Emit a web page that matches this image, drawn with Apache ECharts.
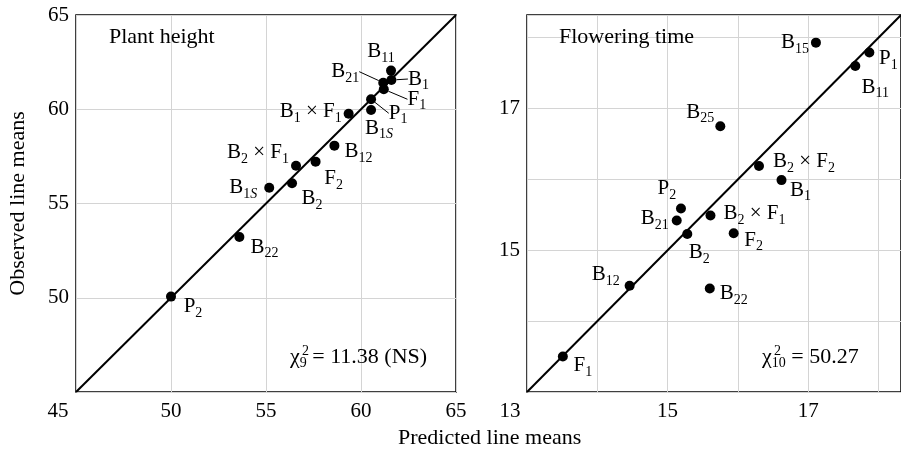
<!DOCTYPE html>
<html>
<head>
<meta charset="utf-8">
<script src="https://cdn.jsdelivr.net/npm/echarts@6/dist/echarts.min.js"></script>
<style>
  html, body { margin: 0; padding: 0; background: #fff; }
  #main { width: 901px; height: 450px; }
</style>
</head>
<body>
<div id="main"></div>
<script>
// plant height panel
var heightNames = ['B11', 'B1', 'B21', 'F1', 'P1', 'B1S', 'B1×F1', 'B12', 'F2', 'B2×F1', 'B2', 'B1S', 'B22', 'P2'];
var heightPredicted = [61.58, 61.6, 61.17, 61.2, 60.53, 60.53, 59.35, 58.6, 57.61, 56.58, 56.37, 55.17, 53.6, 50.0];
var heightObserved = [62.05, 61.55, 61.41, 61.06, 60.53, 59.96, 59.76, 58.07, 57.22, 57.0, 56.07, 55.84, 53.22, 50.06];
var heightRange = [45, 65];
var heightXTicks = [45, 50, 55, 60, 65];
var heightYTicks = [50, 55, 60, 65];

// flowering time panel
var flowerNames = ['B15', 'P1', 'B11', 'B25', 'B2×F2', 'B1', 'P2', 'B21', 'B2×F1', 'B2', 'F2', 'B12', 'B22', 'F1'];
var flowerPredicted = [17.11, 17.87, 17.67, 15.75, 16.3, 16.62, 15.19, 15.13, 15.61, 15.28, 15.94, 14.46, 15.6, 13.51];
var flowerObserved = [17.93, 17.79, 17.6, 16.75, 16.19, 15.99, 15.59, 15.42, 15.49, 15.23, 15.24, 14.5, 14.46, 13.5];
var flowerRange = [13, 18.32];
var flowerXTicks = [13, 15, 17];
var flowerYTicks = [15, 17];

// label placement (label centre minus point centre, px)
var heightLabelShift = [[-10, -19], [27, -1], [-38, -11], [33, 10], [27, 14], [8, 18], [-38, -2],
  [24, 6], [18, 17], [-38, -13], [20, 15], [-26, 0], [25, 10], [22, 10]];
var heightLeader = [false, true, true, true, true, false, false, false, false, false, false, false, false, false];
var flowerLabelShift = [[-21, 0], [19, 6], [20, 21], [-20, -14], [45, -4], [19, 10], [-14, -20],
  [-22, -2], [44, -2], [12, 19], [20, 7], [-24, -11], [24, 5], [20, 9]];

var FONT = 'Liberation Serif';
var rich = {
  n: { fontFamily: FONT, fontSize: 21, fontWeight: 'normal', color: '#000', lineHeight: 24 },
  c: { fontFamily: FONT, fontSize: 22, fontWeight: 'normal', color: '#000', lineHeight: 24 },
  s: { fontFamily: FONT, fontSize: 14, fontWeight: 'normal', color: '#000', lineHeight: 14, padding: [13, 0, 0, 0] },
  si: { fontFamily: FONT, fontSize: 14, fontWeight: 'normal', fontStyle: 'italic', color: '#000', lineHeight: 14, padding: [13, 0, 0, 0] },
  p: { fontFamily: FONT, fontSize: 14, fontWeight: 'normal', color: '#000' }
};

function richName(name) {
  var out = '';
  name.split('×').forEach(function (part, i) {
    if (i > 0) out += '{n| × }';
    var m = part.match(/^([A-Z])(\d+)(S?)$/);
    out += '{n|' + m[1] + '}{s|' + m[2] + '}' + (m[3] ? '{si|S}' : '');
  });
  return out;
}

function buildPoints(names, xs, ys, leader) {
  return names.map(function (nm, i) {
    var item = { name: nm, value: [xs[i], ys[i]] };
    if (leader && leader[i]) {
      item.labelLine = { show: true, length2: 0, lineStyle: { color: '#000', width: 1 } };
    }
    return item;
  });
}

function tickFormatter(shown, minVal, padName) {
  return function (v) {
    var r = Math.round(v * 100) / 100;
    if (shown.indexOf(r) < 0) return '';
    if (padName && r === minVal) return '{' + padName + '|' + r + '}';
    return '{t|' + r + '}';
  };
}

var tickRich = {
  t: { fontFamily: FONT, fontSize: 21, color: '#000' },
  m1: { fontFamily: FONT, fontSize: 21, color: '#000', padding: [0, 36, 0, 0] },
  m2: { fontFamily: FONT, fontSize: 21, color: '#000', padding: [0, 34, 0, 0] }
};

function axisCommon() {
  return {
    axisLine: { show: false },
    axisTick: { show: false },
    splitLine: { show: true, lineStyle: { color: '#d4d4d4', width: 1 } }
  };
}

var chartDom = document.getElementById('main');
var chart = echarts.init(chartDom, null, { renderer: 'canvas' });

var shifts = [heightLabelShift, flowerLabelShift];
var plainText = { fontFamily: FONT, fontSize: 22, fontWeight: 'normal', color: '#000' };

var option = {
  animation: false,
  backgroundColor: '#fff',
  grid: [
    { left: 76, top: 15, width: 380, height: 377, show: true, borderColor: '#000', borderWidth: 1.5, backgroundColor: 'transparent' },
    { left: 527, top: 15, width: 378, height: 377, show: true, borderColor: '#000', borderWidth: 1.5, backgroundColor: 'transparent' }
  ],
  xAxis: [
    Object.assign(axisCommon(), {
      gridIndex: 0, type: 'value', min: heightRange[0], max: heightRange[1], interval: 5,
      axisLabel: { margin: 9, formatter: tickFormatter(heightXTicks, heightRange[0], 'm1'), rich: tickRich }
    }),
    Object.assign(axisCommon(), {
      gridIndex: 1, type: 'value', min: flowerRange[0], max: flowerRange[1], interval: 1,
      axisLabel: { margin: 9, showMaxLabel: false, formatter: tickFormatter(flowerXTicks, flowerRange[0], 'm2'), rich: tickRich }
    })
  ],
  yAxis: [
    Object.assign(axisCommon(), {
      gridIndex: 0, type: 'value', min: heightRange[0], max: heightRange[1], interval: 5,
      name: 'Observed line means', nameLocation: 'middle', nameGap: 47,
      nameTextStyle: plainText,
      axisLabel: { margin: 7, formatter: tickFormatter(heightYTicks), rich: tickRich }
    }),
    Object.assign(axisCommon(), {
      gridIndex: 1, type: 'value', min: flowerRange[0], max: flowerRange[1], interval: 1,
      axisLabel: { margin: 7, showMaxLabel: false, formatter: tickFormatter(flowerYTicks), rich: tickRich }
    })
  ],
  title: [
    { text: 'Plant height', left: 109, top: 26, padding: 0, textStyle: plainText },
    { text: 'Flowering time', left: 559, top: 26, padding: 0, textStyle: plainText },
    { text: 'Predicted line means', left: 398, top: 427, padding: 0, textStyle: plainText },
    { text: '{c|χ}{s|9}{c| = 11.38 (NS)}', left: 290, top: 345, padding: 0, textStyle: { fontWeight: 'normal', rich: rich } },
    { text: '{p|2}', left: 302, top: 344, padding: 0, textStyle: { fontWeight: 'normal', rich: rich } },
    { text: '{c|χ}{s|10}{c| = 50.27}', left: 762, top: 345, padding: 0, textStyle: { fontWeight: 'normal', rich: rich } },
    { text: '{p|2}', left: 774, top: 344, padding: 0, textStyle: { fontWeight: 'normal', rich: rich } }
  ],
  labelLayout: function (params) {
    var s = shifts[params.seriesIndex === 1 ? 0 : params.seriesIndex === 3 ? 1 : -1];
    if (!s) return {};
    var d = s[params.dataIndex];
    return { dx: d[0], dy: d[1] };
  },
  series: [
    {
      type: 'line', xAxisIndex: 0, yAxisIndex: 0, symbol: 'none', silent: true,
      lineStyle: { color: '#000', width: 2 },
      data: [[heightRange[0], heightRange[0]], [heightRange[1], heightRange[1]]]
    },
    {
      type: 'scatter', xAxisIndex: 0, yAxisIndex: 0, symbolSize: 10,
      itemStyle: { color: '#000', opacity: 1 },
      label: {
        show: true, position: 'inside', align: 'center', verticalAlign: 'middle',
        formatter: function (p) { return richName(p.name); }, rich: rich
      },
      labelLine: { show: false },
      data: buildPoints(heightNames, heightPredicted, heightObserved, heightLeader)
    },
    {
      type: 'line', xAxisIndex: 1, yAxisIndex: 1, symbol: 'none', silent: true,
      lineStyle: { color: '#000', width: 2 },
      data: [[flowerRange[0], flowerRange[0]], [flowerRange[1], flowerRange[1]]]
    },
    {
      type: 'scatter', xAxisIndex: 1, yAxisIndex: 1, symbolSize: 10,
      itemStyle: { color: '#000', opacity: 1 },
      label: {
        show: true, position: 'inside', align: 'center', verticalAlign: 'middle',
        formatter: function (p) { return richName(p.name); }, rich: rich
      },
      labelLine: { show: false },
      data: buildPoints(flowerNames, flowerPredicted, flowerObserved, null)
    }
  ]
};

option && chart.setOption(option);
</script>
</body>
</html>
